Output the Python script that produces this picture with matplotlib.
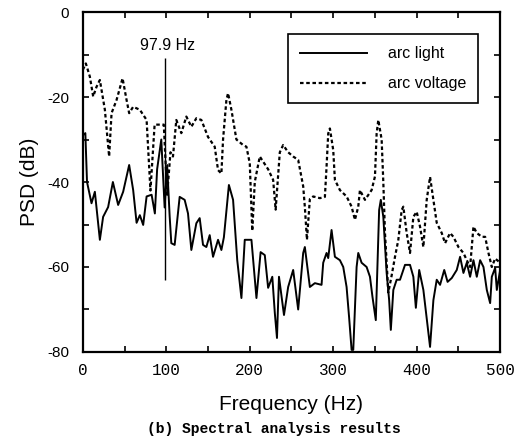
import matplotlib.pyplot as plt
from matplotlib.ticker import MultipleLocator

plt.rcParams["axes.unicode_minus"] = False

# PSD of arc voltage (dotted) and arc light (solid), frequency in Hz, level in dB
volt_freq = [0, 3.6, 8.4, 12.4, 16.4, 20.4, 26.4, 31.5, 34.4, 40.4,
             47.6, 52.4, 55.5, 60.3, 68.3, 76.4, 81, 86, 97, 101,
             105, 108, 112, 118, 124, 130, 136, 142, 150, 158,
             162, 166, 168, 172, 174, 178, 184, 192, 196, 200,
             203, 206, 212, 222, 228, 231, 236, 240, 246, 252,
             258, 264, 266, 268.5, 272, 276, 284, 290, 292, 294,
             296, 300, 302, 308, 316, 322, 326, 330, 332, 338,
             346, 350, 352, 354, 358, 360, 362, 366, 370, 374,
             378, 382, 384, 388, 392, 396, 400, 404, 408, 412,
             416, 420, 424, 430, 434, 440, 444, 450, 456, 460,
             464, 468, 472, 478, 482, 486, 490, 494, 500]
volt_psd = [-13.6, -12.1, -15.2, -19.9, -17.6, -16, -23, -34, -23.8, -20.7,
            -15.6, -20.7, -23.8, -22.3, -23, -25.4, -42, -26.5, -26.5, -43,
            -33, -34, -25.4, -28.5, -24.6, -27, -25, -25.4, -29.4, -31.7,
            -37.2, -38, -30, -20.7, -19.1, -23, -30, -31.3, -31.7, -35.6,
            -51.5, -40, -34, -37, -39.5, -46.5, -33, -31.3, -33, -34,
            -34.8, -41, -45.9, -53.6, -44, -43.4, -43.8, -43.5, -36.4, -28.6,
            -27.4, -32.5, -39.5, -41.9, -43.4, -45.8, -48.9, -45.8, -41.9, -44.2,
            -41.9, -38.7, -28.6, -25.4, -30, -40, -52, -66, -62, -57.6,
            -53.6, -46.6, -45.8, -52, -56.7, -48.2, -47, -50.5, -55.3, -44.2,
            -38.8, -44.2, -49.6, -52, -54.4, -52, -52.9, -55.3, -56.7, -58.4,
            -60, -50.5, -52, -52.9, -52.9, -56.7, -60, -58, -59]

light_freq = [0, 3, 5, 10.4, 14.4, 20.4, 24.3, 30.3, 36, 42.3,
              48.3, 55.5, 60.3, 64.4, 68.3, 72.3, 76.4, 82.4, 86.3, 89,
              94, 98, 101, 104, 106, 110, 116, 122, 126, 130,
              136, 140, 144, 148, 152, 156, 162, 166, 169, 175,
              180, 185, 190, 194, 202, 208, 213, 218, 222, 227,
              230, 232.6, 235, 241, 246, 252, 258, 264, 266, 272,
              278, 286, 288, 292, 294, 298, 302, 308, 312, 316,
              319, 322, 324, 328, 330, 334, 340, 344, 347, 351,
              355, 357, 360, 364, 367, 369, 372, 376, 380, 386,
              392, 396, 399, 403, 408, 416, 420, 424, 428, 433,
              437, 442, 448, 452, 456, 460, 464, 468, 472, 476,
              480, 484, 488, 490, 494, 496, 500]
light_psd = [-29, -28.5, -40, -45, -42.3, -53.6, -48.2, -45.9, -40, -45.4,
             -42.3, -36, -41.9, -49.6, -47.8, -50.1, -43.4, -43, -47.4, -37,
             -30, -46, -36, -48, -54.4, -54.8, -43.5, -44.2, -47.4, -56,
             -49.7, -48.5, -54.8, -55.3, -52.5, -57.6, -53.6, -56, -53, -40.7,
             -44.2, -58.4, -67.3, -53.6, -53.6, -67.3, -56.5, -57.2, -64.9, -62.3,
             -70.8, -76.7, -62.3, -71.3, -64.7, -60.7, -70, -56.7, -55.3, -64.7,
             -63.8, -64.2, -59, -56.7, -57.9, -51.3, -57.6, -58.4, -60, -64.7,
             -71.8, -79.5, -79.5, -60, -56.7, -59, -60, -62.3, -67, -72.5,
             -46.6, -44.2, -48.2, -61.4, -67.8, -74.8, -65.4, -63, -63, -59.5,
             -59.5, -62.3, -69.6, -60.7, -65.4, -78.8, -67.8, -63, -64.2, -60.7,
             -63.5, -62.6, -60.7, -57.6, -61.4, -59, -62.3, -58.4, -62.3, -58.4,
             -60, -65.4, -68.5, -62.3, -60.2, -65.4, -60.7]

peak_freq = 97.9
peak_span = [-63, -10.8]

fig = plt.figure(figsize=(5.21, 4.45), dpi=100)
ax = fig.add_axes([0.159, 0.209, 0.801, 0.764])

ax.plot(light_freq, light_psd, color="black", lw=1.4, label="arc light")
ax.plot(volt_freq, volt_psd, color="black", lw=1.6, ls=(0, (1.6, 1.2)),
        label="arc voltage")
ax.vlines(peak_freq, peak_span[0], peak_span[1], color="black", lw=1.0)
ax.text(peak_freq + 4, -7.8, "97.9 Hz", ha="center", va="center",
        fontsize=11.5, family="Liberation Sans")

ax.set_xlim(0, 500)
ax.set_ylim(-80, 0)
ax.xaxis.set_major_locator(MultipleLocator(100))
ax.xaxis.set_minor_locator(MultipleLocator(50))
ax.yaxis.set_major_locator(MultipleLocator(20))
ax.yaxis.set_minor_locator(MultipleLocator(10))
ax.tick_params(which="both", direction="in", top=True, right=True,
               width=1.2, length=4)
ax.tick_params(axis="y", labelsize=11, pad=10)
ax.tick_params(axis="x", labelsize=11.5, pad=8)
for lab in ax.get_yticklabels():
    lab.set_family("Liberation Sans")
for lab in ax.get_xticklabels():
    lab.set_family("Liberation Mono")
for sp in ax.spines.values():
    sp.set_linewidth(1.6)

ax.set_xlabel("Frequency (Hz)", fontsize=15, family="Liberation Sans",
              labelpad=12)
ax.set_ylabel("PSD (dB)", fontsize=15, family="Liberation Sans", labelpad=6)

leg = ax.legend(loc="upper left", bbox_to_anchor=(0.492, 0.935),
                borderaxespad=0,
                prop={"family": "Liberation Sans", "size": 11.5},
                handlelength=4.2, handletextpad=1.3, borderpad=0.75,
                labelspacing=0.95, fancybox=False, framealpha=1,
                edgecolor="black")
leg.get_frame().set_linewidth(1.2)

fig.text(0.525, 0.027, "(b) Spectral analysis results", ha="center",
         fontsize=10.5, family="Liberation Mono", weight="bold")

fig.savefig("out.png", dpi=100)
